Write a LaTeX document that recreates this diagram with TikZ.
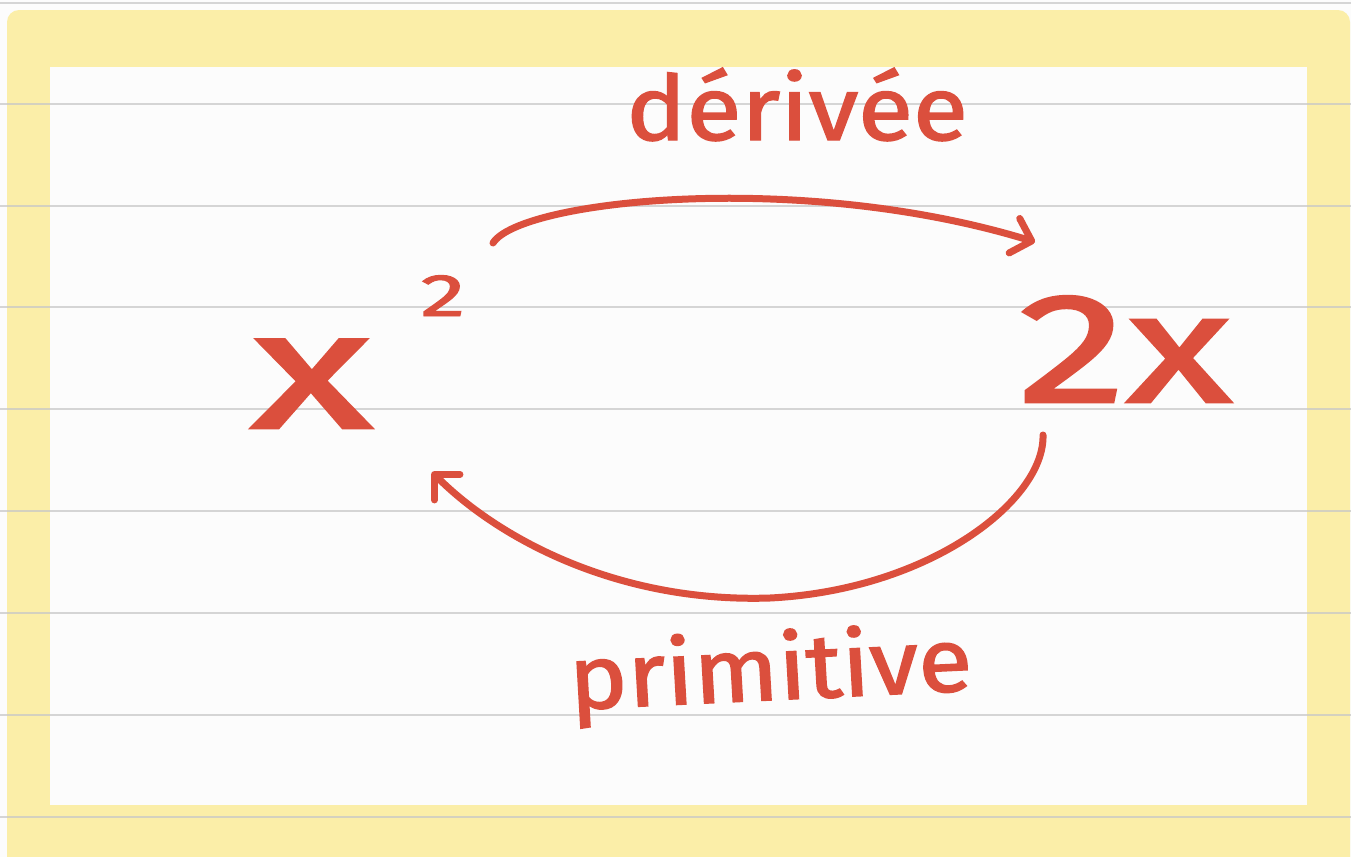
\documentclass[tikz,border=0pt]{standalone}
\usepackage{fontspec}
\setmainfont{Fira Sans}
\newfontfamily\handfont[FakeBold=1.6]{Fira Sans}
\usetikzlibrary{arrows.meta}
\definecolor{pad}{HTML}{FBEEA8}
\definecolor{ink}{HTML}{DB4F3D}
\definecolor{rule}{HTML}{C8C8C8}
\tikzset{
  hand/.style={text=ink, inner sep=0pt},
  link/.style={draw=ink, line width=3.5pt, line cap=round, line join=round,
    -{Straight Barb[length=9pt,width=18pt,line cap=round,line join=round]}},
}
\begin{document}
\begin{tikzpicture}[x=0.5pt,y=-0.5pt]
\useasboundingbox (0,0) rectangle (1351,857);
\clip (0,0) rectangle (1351,857);
\fill[white!99!black] (0,0) rectangle (1351,857);
\fill[pad, rounded corners=6pt] (7,10) rectangle (1350,900);
\fill[white!99!black] (50,67) rectangle (1307,805);
\foreach \yy in {3,104,206,307,409,511,613,715,817}
  \draw[rule, line width=1pt, opacity=0.75] (0,\yy) -- (1351,\yy);

\node[hand, anchor=base, font=\handfont\fontsize{45}{50}\selectfont, xscale=1.12] (der) at (797,140) {dérivée};
\node[hand, anchor=base, font=\handfont\fontsize{45}{50}\selectfont, xscale=1.1, rotate=3] (pri) at (772,700) {primitive};
\node[hand, anchor=base west, font=\handfont\fontsize{84}{90}\selectfont] (sq) at (250,428)
  {\scalebox{1.5}[1]{x}\hspace{24pt}\raisebox{56pt}{\fontsize{30}{32}\selectfont\scalebox{1.5}[1]{2}}};
\node[hand, anchor=base, font=\handfont\fontsize{78}{80}\selectfont, xscale=1.4] (tx) at (1125,402) {2x};

\draw[link] ([shift={(243,-185)}]sq.base west)
  .. controls (520,200) and (800,170) .. ([shift={(-90,-160)}]tx.base);
\draw[link] ([shift={(-82,33)}]tx.base)
  .. controls (1045,500) and (930,590) .. (770,598)
  .. controls (620,603) and (500,540) .. ([shift={(182,44)}]sq.base west);
\end{tikzpicture}
\end{document}
